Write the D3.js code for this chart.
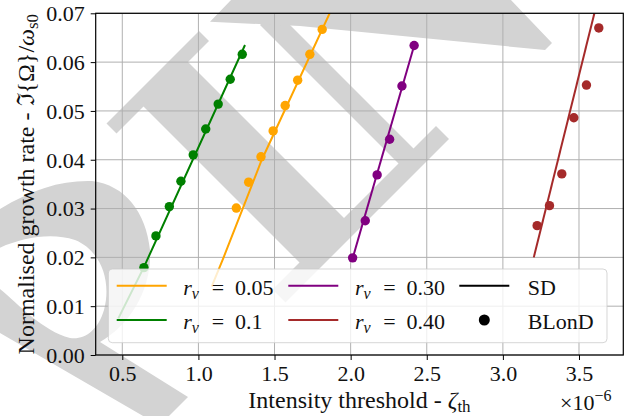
<!DOCTYPE html>
<html>
<head>
<meta charset="utf-8">
<script src="https://cdn.jsdelivr.net/npm/d3@7"></script>
<style>
  html, body { margin: 0; padding: 0; background: #ffffff; }
  svg { display: block; font-family: "Liberation Serif", "DejaVu Serif", serif; }
</style>
</head>
<body>
<svg id="chart" width="628" height="416"></svg>
<script>
// ---------------- data ----------------
const seriesNames = ["r_v = 0.05", "r_v = 0.1", "r_v = 0.30", "r_v = 0.40"];
const seriesColors = ["#FFA500", "#008000", "#800080", "#A52A2A"];
const legendValues = ["0.05", "0.1", "0.30", "0.40"];

// BLonD simulation points (x in units of 1e-6, y = growth rate)
const blondX_005 = [1.249, 1.330, 1.411, 1.491, 1.570, 1.652, 1.732, 1.813];
const blondY_005 = [0.0301, 0.0354, 0.0406, 0.0459, 0.0511, 0.0563, 0.0616, 0.0667];
const blondX_01 = [0.642, 0.721, 0.809, 0.885, 0.966, 1.048, 1.130, 1.209, 1.288];
const blondY_01 = [0.0179, 0.0244, 0.0304, 0.0356, 0.0410, 0.0463, 0.0514, 0.0565, 0.0616];
const blondX_030 = [2.013, 2.096, 2.174, 2.256, 2.337, 2.417];
const blondY_030 = [0.0199, 0.0275, 0.0369, 0.0442, 0.0551, 0.0634];
const blondX_040 = [3.225, 3.306, 3.387, 3.466, 3.549, 3.630];
const blondY_040 = [0.0265, 0.0306, 0.0371, 0.0486, 0.0553, 0.0670];

// SD (semi-analytical) curves
const sdX_005 = [1.087, 1.163, 1.291, 1.415, 1.862];
const sdY_005 = [0.0140, 0.0198, 0.0300, 0.0399, 0.0700];
const sdX_01 = [0.474, 0.642, 1.306];
const sdY_01 = [0.0075, 0.0180, 0.0635];
const sdX_030 = [2.013, 2.422];
const sdY_030 = [0.0198, 0.0639];
const sdX_040 = [3.203, 3.601];
const sdY_040 = [0.0200, 0.0700];

const xTicks = [0.5, 1.0, 1.5, 2.0, 2.5, 3.0, 3.5];
const yTicks = [0.00, 0.01, 0.02, 0.03, 0.04, 0.05, 0.06, 0.07];
const xDomain = [0.3253, 3.791];
const yDomain = [0, 0.07];

const blond = [
  {x: blondX_005, y: blondY_005},
  {x: blondX_01, y: blondY_01},
  {x: blondX_030, y: blondY_030},
  {x: blondX_040, y: blondY_040}
];
const sd = [
  {x: sdX_005, y: sdY_005},
  {x: sdX_01, y: sdY_01},
  {x: sdX_030, y: sdY_030},
  {x: sdX_040, y: sdY_040}
];

// ---------------- layout ----------------
const svg = d3.select("#chart");
const L = 95.7, R = 623.3, T = 13.3, B = 355;
const x = d3.scaleLinear().domain(xDomain).range([L, R]);
const y = d3.scaleLinear().domain(yDomain).range([B, T]);
const GREY = "#d3d3d3";
const INK = "#111";

// ---------------- watermark (background) ----------------
const wm = svg.append("g").attr("fill", GREY);
// helper: rotated rectangle in (u = x+y, v = y-x) coordinates
function uvRect(u0, u1, v0, v1) {
  const p = (u, v) => [(u - v) / 2, (u + v) / 2];
  return [p(u0, v0), p(u1, v0), p(u1, v1), p(u0, v1)];
}
const poly = pts => "M" + pts.map(p => p.join(",")).join("L") + "Z";
wm.append("path").attr("d", poly(uvRect(230, 250, -168, 17)));   // top serif
wm.append("path").attr("d", poly(uvRect(248, 586, -126, -37)));  // thick stem
wm.append("path").attr("d", poly(uvRect(562, 588, -310, 17)));   // bottom bar
wm.append("path").attr("d", poly(uvRect(285, 564, -265, -235))); // thin stem
wm.append("path").attr("d", "M210,21.7 L232,-1 L510,-1 L552,43 L545,50 L300,26 Z"); // top bar
// bottom-left rounded letter
wm.append("path").attr("fill-rule", "evenodd")
  .attr("d", "M-5,212 C30,190 60,180 92,181 C125,185 146,212 150,250 C152,290 130,325 100,342 " +
             "L188,397 L165,420 L150,420 L-5,330 Z " +
             "M-5,250 C20,238 50,232 75,240 C100,250 112,280 104,310 C98,330 85,340 70,338 C40,330 15,300 -5,285 Z");

// ---------------- grid ----------------
const grid = svg.append("g").attr("stroke", "#b0b0b0").attr("stroke-width", 1);
xTicks.forEach(t => grid.append("line").attr("x1", x(t)).attr("x2", x(t)).attr("y1", T).attr("y2", B));
yTicks.forEach(t => grid.append("line").attr("x1", L).attr("x2", R).attr("y1", y(t)).attr("y2", y(t)));

// ---------------- data marks ----------------
svg.append("defs").append("clipPath").attr("id", "clip")
  .append("rect").attr("x", L).attr("y", T).attr("width", R - L).attr("height", B - T);
const plot = svg.append("g").attr("clip-path", "url(#clip)");
const line = d3.line().x(d => x(d[0])).y(d => y(d[1]));
sd.forEach((s, i) => {
  plot.append("path")
    .attr("d", line(s.x.map((v, j) => [v, s.y[j]])))
    .attr("fill", "none").attr("stroke", seriesColors[i]).attr("stroke-width", 2);
});
blond.forEach((s, i) => {
  plot.append("g").selectAll("circle").data(s.x.map((v, j) => [v, s.y[j]])).join("circle")
    .attr("cx", d => x(d[0])).attr("cy", d => y(d[1])).attr("r", 4.7)
    .attr("fill", seriesColors[i]);
});

// ---------------- axes ----------------
const xAxis = d3.axisBottom(x).tickValues(xTicks).tickFormat(d3.format(".1f")).tickSize(5).tickPadding(3);
const yAxis = d3.axisLeft(y).tickValues(yTicks).tickFormat(d3.format(".2f")).tickSize(5).tickPadding(6);
const gx = svg.append("g").attr("transform", `translate(0,${B})`).call(xAxis);
const gy = svg.append("g").attr("transform", `translate(${L},0)`).call(yAxis);
[gx, gy].forEach(g => {
  g.attr("font-family", null).attr("font-size", null);
  g.select(".domain").remove();
  g.selectAll("line").attr("stroke", "#000").attr("stroke-width", 1);
  g.selectAll("text").style("font-family", "'Liberation Serif', serif").attr("font-size", 22).attr("fill", INK);
});
gx.selectAll("text").attr("dy", "0.82em");
gy.selectAll("text").attr("dy", "0.33em");
// frame
svg.append("rect").attr("x", L).attr("y", T).attr("width", R - L).attr("height", B - T)
  .attr("fill", "none").attr("stroke", "#000").attr("stroke-width", 1.2);

// ---------------- axis labels ----------------
const xl = svg.append("text").attr("x", (L + R) / 2).attr("y", 408).attr("text-anchor", "middle")
  .attr("font-size", 24).attr("fill", INK);
xl.append("tspan").text("Intensity threshold - ");
xl.append("tspan").attr("font-style", "italic").text("ζ");
xl.append("tspan").attr("font-size", 17).attr("dy", 4).text("th");

const yl = svg.append("text").attr("transform", `translate(34,${(T + B) / 2}) rotate(-90)`)
  .attr("text-anchor", "middle").attr("font-size", 24).attr("fill", INK);
yl.append("tspan").text("Normalised growth rate - ℑ{Ω}/");
yl.append("tspan").attr("font-style", "italic").text("ω");
yl.append("tspan").attr("font-size", 17).attr("dy", 4).text("s0");

const off = svg.append("text").attr("x", 560).attr("y", 410).attr("font-size", 22).attr("fill", INK);
off.append("tspan").text("×10");
off.append("tspan").attr("font-size", 16).attr("dy", -9).text("−6");

// ---------------- legend ----------------
const lg = svg.append("g");
lg.append("rect").attr("x", 108.3).attr("y", 269).attr("width", 498.7).attr("height", 73.7)
  .attr("rx", 4).attr("fill", "#ffffff").attr("fill-opacity", 0.8)
  .attr("stroke", "#cccccc").attr("stroke-opacity", 0.8).attr("stroke-width", 1);
const colX = [116.7, 288.3];
const rowY = [285.7, 320];
const order = [[0, 0, 0], [1, 0, 1], [2, 1, 0], [3, 1, 1]]; // series, col, row
order.forEach(([si, c, r]) => {
  const hx = colX[c], hy = rowY[r];
  lg.append("line").attr("x1", hx).attr("x2", hx + 50).attr("y1", hy).attr("y2", hy)
    .attr("stroke", seriesColors[si]).attr("stroke-width", 2);
  const tx = hx + 66.6, ty = hy + 9.3;
  const t = lg.append("text").attr("x", tx).attr("y", ty).attr("font-size", 22).attr("fill", INK);
  t.append("tspan").attr("font-style", "italic").text("r");
  t.append("tspan").attr("font-style", "italic").attr("font-size", 16).attr("dy", 4).text("v");
  lg.append("text").attr("x", tx + 28.4).attr("y", ty).attr("font-size", 22).attr("fill", INK).text("=");
  lg.append("text").attr("x", tx + 51.7).attr("y", ty).attr("font-size", 22).attr("fill", INK).text(legendValues[si]);
});
lg.append("line").attr("x1", 459.3).attr("x2", 509.3).attr("y1", rowY[0]).attr("y2", rowY[0])
  .attr("stroke", "#000").attr("stroke-width", 2);
lg.append("circle").attr("cx", 484.3).attr("cy", rowY[1]).attr("r", 5.5).attr("fill", "#000");
lg.append("text").attr("x", 527.7).attr("y", 295).attr("font-size", 22).attr("fill", INK).text("SD");
lg.append("text").attr("x", 527.7).attr("y", 328.8).attr("font-size", 22).attr("fill", INK).text("BLonD");
</script>
</body>
</html>
